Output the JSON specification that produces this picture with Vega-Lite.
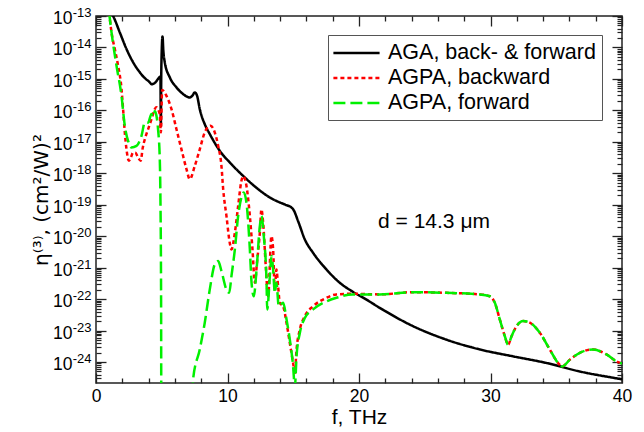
{
  "$schema": "https://vega.github.io/schema/vega-lite/v6.json",
  "width": 526,
  "height": 367,
  "autosize": {"type": "none"},
  "padding": {"left": 96, "top": 16, "right": 22, "bottom": 49},
  "background": "white",
  "config": {
    "font": "Liberation Sans",
    "view": {"stroke": "#222", "strokeWidth": 1.5},
    "axis": {"domain": false, "ticks": true, "tickColor": "#222", "tickWidth": 1.3, "tickOpacity": 1, "grid": false, "labelFont": "Liberation Sans", "titleFont": "Liberation Sans", "labelColor": "black", "titleColor": "black", "titleFontWeight": "normal", "labelFlush": false, "labelOverlap": false}
  },
  "resolve": {"axis": {"x": "independent", "y": "independent"}},
  "layer": [
    {
      "data": {"values": [
        {"f": 1.0, "v": 1.58e-13, "s": "AGA, back- & forward"},
        {"f": 1.3, "v": 1.0e-13, "s": "AGA, back- & forward"},
        {"f": 1.81, "v": 3.0e-14, "s": "AGA, back- & forward"},
        {"f": 2.32, "v": 8.9e-15, "s": "AGA, back- & forward"},
        {"f": 2.82, "v": 3.39e-15, "s": "AGA, back- & forward"},
        {"f": 3.33, "v": 1.62e-15, "s": "AGA, back- & forward"},
        {"f": 3.7, "v": 1.07e-15, "s": "AGA, back- & forward"},
        {"f": 4.09, "v": 7.76e-16, "s": "AGA, back- & forward"},
        {"f": 4.22, "v": 6.76e-16, "s": "AGA, back- & forward"},
        {"f": 4.5, "v": 7.6e-16, "s": "AGA, back- & forward"},
        {"f": 4.72, "v": 1.0e-15, "s": "AGA, back- & forward"},
        {"f": 4.9, "v": 1.2e-15, "s": "AGA, back- & forward"},
        {"f": 4.93, "v": 3.16e-17, "s": "AGA, back- & forward"},
        {"f": 4.97, "v": 2.5e-15, "s": "AGA, back- & forward"},
        {"f": 5.06, "v": 2.24e-14, "s": "AGA, back- & forward"},
        {"f": 5.12, "v": 7.94e-15, "s": "AGA, back- & forward"},
        {"f": 5.23, "v": 3.39e-15, "s": "AGA, back- & forward"},
        {"f": 5.61, "v": 1.12e-15, "s": "AGA, back- & forward"},
        {"f": 6.12, "v": 5.37e-16, "s": "AGA, back- & forward"},
        {"f": 6.62, "v": 3.31e-16, "s": "AGA, back- & forward"},
        {"f": 7.13, "v": 2.57e-16, "s": "AGA, back- & forward"},
        {"f": 7.35, "v": 3.0e-16, "s": "AGA, back- & forward"},
        {"f": 7.51, "v": 3.72e-16, "s": "AGA, back- & forward"},
        {"f": 7.69, "v": 2.88e-16, "s": "AGA, back- & forward"},
        {"f": 7.89, "v": 1.1e-16, "s": "AGA, back- & forward"},
        {"f": 8.27, "v": 3.63e-17, "s": "AGA, back- & forward"},
        {"f": 8.66, "v": 1.74e-17, "s": "AGA, back- & forward"},
        {"f": 9.42, "v": 5.13e-18, "s": "AGA, back- & forward"},
        {"f": 10.18, "v": 2.19e-18, "s": "AGA, back- & forward"},
        {"f": 11.06, "v": 9.3e-19, "s": "AGA, back- & forward"},
        {"f": 12.2, "v": 3.47e-19, "s": "AGA, back- & forward"},
        {"f": 13.22, "v": 1.7e-19, "s": "AGA, back- & forward"},
        {"f": 13.72, "v": 1.32e-19, "s": "AGA, back- & forward"},
        {"f": 14.4, "v": 1.0e-19, "s": "AGA, back- & forward"},
        {"f": 14.87, "v": 8.1e-20, "s": "AGA, back- & forward"},
        {"f": 15.0, "v": 7.1e-20, "s": "AGA, back- & forward"},
        {"f": 15.37, "v": 3.0e-20, "s": "AGA, back- & forward"},
        {"f": 15.88, "v": 7.9e-21, "s": "AGA, back- & forward"},
        {"f": 16.51, "v": 2.95e-21, "s": "AGA, back- & forward"},
        {"f": 17.53, "v": 8.7e-22, "s": "AGA, back- & forward"},
        {"f": 18.54, "v": 3.3e-22, "s": "AGA, back- & forward"},
        {"f": 19.5, "v": 1.74e-22, "s": "AGA, back- & forward"},
        {"f": 20.5, "v": 1.0e-22, "s": "AGA, back- & forward"},
        {"f": 21.58, "v": 5.25e-23, "s": "AGA, back- & forward"},
        {"f": 24.11, "v": 1.38e-23, "s": "AGA, back- & forward"},
        {"f": 26.65, "v": 5.13e-24, "s": "AGA, back- & forward"},
        {"f": 29.19, "v": 2.51e-24, "s": "AGA, back- & forward"},
        {"f": 31.72, "v": 1.51e-24, "s": "AGA, back- & forward"},
        {"f": 34.26, "v": 9.3e-25, "s": "AGA, back- & forward"},
        {"f": 36.79, "v": 5.0e-25, "s": "AGA, back- & forward"},
        {"f": 39.32, "v": 3.16e-25, "s": "AGA, back- & forward"},
        {"f": 40.0, "v": 2.82e-25, "s": "AGA, back- & forward"},

        {"f": 1.0, "v": 1.26e-13, "s": "AGPA, backward"},
        {"f": 1.18, "v": 3.0e-14, "s": "AGPA, backward"},
        {"f": 1.43, "v": 8.9e-15, "s": "AGPA, backward"},
        {"f": 1.68, "v": 2.63e-15, "s": "AGPA, backward"},
        {"f": 1.94, "v": 4.8e-16, "s": "AGPA, backward"},
        {"f": 2.06, "v": 1.1e-16, "s": "AGPA, backward"},
        {"f": 2.19, "v": 2.0e-17, "s": "AGPA, backward"},
        {"f": 2.32, "v": 5.75e-18, "s": "AGPA, backward"},
        {"f": 2.5, "v": 2.5e-18, "s": "AGPA, backward"},
        {"f": 2.65, "v": 3.16e-18, "s": "AGPA, backward"},
        {"f": 2.82, "v": 4.57e-18, "s": "AGPA, backward"},
        {"f": 3.0, "v": 4.47e-18, "s": "AGPA, backward"},
        {"f": 3.2, "v": 3.16e-18, "s": "AGPA, backward"},
        {"f": 3.4, "v": 2.5e-18, "s": "AGPA, backward"},
        {"f": 3.55, "v": 6.3e-18, "s": "AGPA, backward"},
        {"f": 3.71, "v": 1.2e-17, "s": "AGPA, backward"},
        {"f": 3.96, "v": 2.5e-17, "s": "AGPA, backward"},
        {"f": 4.22, "v": 5.25e-17, "s": "AGPA, backward"},
        {"f": 4.47, "v": 1.1e-16, "s": "AGPA, backward"},
        {"f": 4.6, "v": 1.26e-16, "s": "AGPA, backward"},
        {"f": 4.75, "v": 1.0e-16, "s": "AGPA, backward"},
        {"f": 4.85, "v": 7.6e-17, "s": "AGPA, backward"},
        {"f": 4.93, "v": 2.0e-17, "s": "AGPA, backward"},
        {"f": 5.03, "v": 4.47e-16, "s": "AGPA, backward"},
        {"f": 5.36, "v": 2.88e-16, "s": "AGPA, backward"},
        {"f": 5.74, "v": 1.1e-16, "s": "AGPA, backward"},
        {"f": 6.12, "v": 2.5e-17, "s": "AGPA, backward"},
        {"f": 6.5, "v": 5.75e-18, "s": "AGPA, backward"},
        {"f": 6.88, "v": 1.35e-18, "s": "AGPA, backward"},
        {"f": 7.13, "v": 6.46e-19, "s": "AGPA, backward"},
        {"f": 7.51, "v": 1.7e-18, "s": "AGPA, backward"},
        {"f": 7.89, "v": 5.75e-18, "s": "AGPA, backward"},
        {"f": 8.27, "v": 2.0e-17, "s": "AGPA, backward"},
        {"f": 8.71, "v": 3.24e-17, "s": "AGPA, backward"},
        {"f": 9.03, "v": 2.0e-17, "s": "AGPA, backward"},
        {"f": 9.29, "v": 7.4e-18, "s": "AGPA, backward"},
        {"f": 9.54, "v": 1.7e-18, "s": "AGPA, backward"},
        {"f": 9.67, "v": 3.16e-19, "s": "AGPA, backward"},
        {"f": 9.92, "v": 4.4e-20, "s": "AGPA, backward"},
        {"f": 10.17, "v": 6.2e-21, "s": "AGPA, backward"},
        {"f": 10.3, "v": 3.8e-21, "s": "AGPA, backward"},
        {"f": 10.56, "v": 1.29e-20, "s": "AGPA, backward"},
        {"f": 10.81, "v": 9.1e-20, "s": "AGPA, backward"},
        {"f": 11.06, "v": 5.75e-19, "s": "AGPA, backward"},
        {"f": 11.19, "v": 8.1e-19, "s": "AGPA, backward"},
        {"f": 11.44, "v": 4.0e-19, "s": "AGPA, backward"},
        {"f": 11.7, "v": 4.4e-20, "s": "AGPA, backward"},
        {"f": 11.9, "v": 3.8e-21, "s": "AGPA, backward"},
        {"f": 12.08, "v": 3.3e-22, "s": "AGPA, backward"},
        {"f": 12.25, "v": 1.58e-21, "s": "AGPA, backward"},
        {"f": 12.46, "v": 1.29e-20, "s": "AGPA, backward"},
        {"f": 12.58, "v": 7.1e-20, "s": "AGPA, backward"},
        {"f": 12.71, "v": 2.7e-20, "s": "AGPA, backward"},
        {"f": 12.91, "v": 1.12e-21, "s": "AGPA, backward"},
        {"f": 13.09, "v": 1.23e-22, "s": "AGPA, backward"},
        {"f": 13.34, "v": 1.0e-20, "s": "AGPA, backward"},
        {"f": 13.47, "v": 3.8e-21, "s": "AGPA, backward"},
        {"f": 13.6, "v": 2.0e-22, "s": "AGPA, backward"},
        {"f": 13.72, "v": 8.7e-22, "s": "AGPA, backward"},
        {"f": 13.85, "v": 2.5e-22, "s": "AGPA, backward"},
        {"f": 13.98, "v": 7.6e-23, "s": "AGPA, backward"},
        {"f": 14.23, "v": 5.9e-23, "s": "AGPA, backward"},
        {"f": 14.49, "v": 1.74e-23, "s": "AGPA, backward"},
        {"f": 14.74, "v": 4.0e-24, "s": "AGPA, backward"},
        {"f": 14.99, "v": 9.3e-25, "s": "AGPA, backward"},
        {"f": 15.12, "v": 4.47e-25, "s": "AGPA, backward"},
        {"f": 15.25, "v": 2.5e-24, "s": "AGPA, backward"},
        {"f": 15.5, "v": 1.07e-23, "s": "AGPA, backward"},
        {"f": 15.88, "v": 2.9e-23, "s": "AGPA, backward"},
        {"f": 16.51, "v": 5.9e-23, "s": "AGPA, backward"},
        {"f": 17.53, "v": 1.1e-22, "s": "AGPA, backward"},
        {"f": 18.29, "v": 1.41e-22, "s": "AGPA, backward"},
        {"f": 19.5, "v": 1.48e-22, "s": "AGPA, backward"},
        {"f": 21.58, "v": 1.41e-22, "s": "AGPA, backward"},
        {"f": 24.11, "v": 1.66e-22, "s": "AGPA, backward"},
        {"f": 26.65, "v": 1.58e-22, "s": "AGPA, backward"},
        {"f": 29.19, "v": 1.41e-22, "s": "AGPA, backward"},
        {"f": 29.95, "v": 1.23e-22, "s": "AGPA, backward"},
        {"f": 30.33, "v": 7.6e-23, "s": "AGPA, backward"},
        {"f": 30.71, "v": 2.24e-23, "s": "AGPA, backward"},
        {"f": 31.09, "v": 6.6e-24, "s": "AGPA, backward"},
        {"f": 31.34, "v": 3.55e-24, "s": "AGPA, backward"},
        {"f": 31.6, "v": 6.6e-24, "s": "AGPA, backward"},
        {"f": 31.98, "v": 1.38e-23, "s": "AGPA, backward"},
        {"f": 32.48, "v": 2.0e-23, "s": "AGPA, backward"},
        {"f": 32.99, "v": 1.78e-23, "s": "AGPA, backward"},
        {"f": 33.75, "v": 8.5e-24, "s": "AGPA, backward"},
        {"f": 34.51, "v": 2.5e-24, "s": "AGPA, backward"},
        {"f": 35.14, "v": 9.3e-25, "s": "AGPA, backward"},
        {"f": 35.45, "v": 7.2e-25, "s": "AGPA, backward"},
        {"f": 36.05, "v": 1.2e-24, "s": "AGPA, backward"},
        {"f": 36.79, "v": 1.95e-24, "s": "AGPA, backward"},
        {"f": 37.8, "v": 2.5e-24, "s": "AGPA, backward"},
        {"f": 38.82, "v": 1.74e-24, "s": "AGPA, backward"},
        {"f": 39.58, "v": 1.05e-24, "s": "AGPA, backward"},
        {"f": 40.0, "v": 8.9e-25, "s": "AGPA, backward"},

        {"f": 1.0, "v": 1.26e-13, "s": "AGPA, forward"},
        {"f": 1.18, "v": 3.0e-14, "s": "AGPA, forward"},
        {"f": 1.56, "v": 2.63e-15, "s": "AGPA, forward"},
        {"f": 1.94, "v": 2.88e-16, "s": "AGPA, forward"},
        {"f": 2.19, "v": 3.24e-17, "s": "AGPA, forward"},
        {"f": 2.44, "v": 1.07e-17, "s": "AGPA, forward"},
        {"f": 2.7, "v": 6.6e-18, "s": "AGPA, forward"},
        {"f": 3.08, "v": 7.4e-18, "s": "AGPA, forward"},
        {"f": 3.46, "v": 1.55e-17, "s": "AGPA, forward"},
        {"f": 3.71, "v": 4.07e-17, "s": "AGPA, forward"},
        {"f": 3.96, "v": 4.07e-17, "s": "AGPA, forward"},
        {"f": 4.22, "v": 7.6e-17, "s": "AGPA, forward"},
        {"f": 4.35, "v": 6.3e-17, "s": "AGPA, forward"},
        {"f": 4.47, "v": 9.5e-17, "s": "AGPA, forward"},
        {"f": 4.6, "v": 6.6e-17, "s": "AGPA, forward"},
        {"f": 4.72, "v": 2.5e-17, "s": "AGPA, forward"},
        {"f": 4.85, "v": 2.8e-18, "s": "AGPA, forward"},
        {"f": 4.9, "v": 1.48e-19, "s": "AGPA, forward"},
        {"f": 4.95, "v": 1.0e-22, "s": "AGPA, forward"},
        {"f": 4.98, "v": 1.0e-30, "s": "AGPA, forward"},
        {"f": 7.3, "v": 1.0e-30, "s": "AGPA, forward"},
        {"f": 7.38, "v": 2.75e-25, "s": "AGPA, forward"},
        {"f": 7.89, "v": 2.5e-24, "s": "AGPA, forward"},
        {"f": 8.27, "v": 1.78e-23, "s": "AGPA, forward"},
        {"f": 8.65, "v": 2.0e-22, "s": "AGPA, forward"},
        {"f": 9.03, "v": 1.26e-21, "s": "AGPA, forward"},
        {"f": 9.29, "v": 1.62e-21, "s": "AGPA, forward"},
        {"f": 9.54, "v": 7.8e-22, "s": "AGPA, forward"},
        {"f": 9.92, "v": 2.0e-22, "s": "AGPA, forward"},
        {"f": 10.13, "v": 1.58e-22, "s": "AGPA, forward"},
        {"f": 10.3, "v": 5.4e-22, "s": "AGPA, forward"},
        {"f": 10.56, "v": 3.8e-21, "s": "AGPA, forward"},
        {"f": 10.81, "v": 4.4e-20, "s": "AGPA, forward"},
        {"f": 11.06, "v": 1.7e-19, "s": "AGPA, forward"},
        {"f": 11.24, "v": 2.45e-19, "s": "AGPA, forward"},
        {"f": 11.44, "v": 1.17e-19, "s": "AGPA, forward"},
        {"f": 11.7, "v": 3.8e-21, "s": "AGPA, forward"},
        {"f": 11.83, "v": 3.3e-22, "s": "AGPA, forward"},
        {"f": 12.0, "v": 1.23e-22, "s": "AGPA, forward"},
        {"f": 12.21, "v": 8.7e-22, "s": "AGPA, forward"},
        {"f": 12.46, "v": 2.1e-20, "s": "AGPA, forward"},
        {"f": 12.58, "v": 4.4e-20, "s": "AGPA, forward"},
        {"f": 12.76, "v": 1.0e-20, "s": "AGPA, forward"},
        {"f": 12.97, "v": 3.3e-22, "s": "AGPA, forward"},
        {"f": 13.02, "v": 4.7e-23, "s": "AGPA, forward"},
        {"f": 13.22, "v": 5.4e-22, "s": "AGPA, forward"},
        {"f": 13.34, "v": 2.34e-21, "s": "AGPA, forward"},
        {"f": 13.47, "v": 8.7e-22, "s": "AGPA, forward"},
        {"f": 13.6, "v": 1.58e-22, "s": "AGPA, forward"},
        {"f": 13.72, "v": 3.3e-22, "s": "AGPA, forward"},
        {"f": 13.9, "v": 5.9e-23, "s": "AGPA, forward"},
        {"f": 14.23, "v": 7.6e-23, "s": "AGPA, forward"},
        {"f": 14.49, "v": 2.24e-23, "s": "AGPA, forward"},
        {"f": 14.74, "v": 5.1e-24, "s": "AGPA, forward"},
        {"f": 14.99, "v": 7.2e-25, "s": "AGPA, forward"},
        {"f": 15.12, "v": 1.58e-25, "s": "AGPA, forward"},
        {"f": 15.25, "v": 1.51e-24, "s": "AGPA, forward"},
        {"f": 15.5, "v": 8.3e-24, "s": "AGPA, forward"},
        {"f": 15.88, "v": 2.5e-23, "s": "AGPA, forward"},
        {"f": 16.51, "v": 4.7e-23, "s": "AGPA, forward"},
        {"f": 17.53, "v": 8.5e-23, "s": "AGPA, forward"},
        {"f": 18.29, "v": 1.1e-22, "s": "AGPA, forward"},
        {"f": 19.5, "v": 1.41e-22, "s": "AGPA, forward"},
        {"f": 21.58, "v": 1.41e-22, "s": "AGPA, forward"},
        {"f": 24.11, "v": 1.66e-22, "s": "AGPA, forward"},
        {"f": 26.65, "v": 1.58e-22, "s": "AGPA, forward"},
        {"f": 29.19, "v": 1.41e-22, "s": "AGPA, forward"},
        {"f": 29.95, "v": 1.23e-22, "s": "AGPA, forward"},
        {"f": 30.33, "v": 7.6e-23, "s": "AGPA, forward"},
        {"f": 30.71, "v": 2.24e-23, "s": "AGPA, forward"},
        {"f": 31.09, "v": 6.6e-24, "s": "AGPA, forward"},
        {"f": 31.34, "v": 3.55e-24, "s": "AGPA, forward"},
        {"f": 31.6, "v": 6.6e-24, "s": "AGPA, forward"},
        {"f": 31.98, "v": 1.38e-23, "s": "AGPA, forward"},
        {"f": 32.48, "v": 2.0e-23, "s": "AGPA, forward"},
        {"f": 32.99, "v": 1.78e-23, "s": "AGPA, forward"},
        {"f": 33.75, "v": 8.5e-24, "s": "AGPA, forward"},
        {"f": 34.51, "v": 2.5e-24, "s": "AGPA, forward"},
        {"f": 35.14, "v": 9.3e-25, "s": "AGPA, forward"},
        {"f": 35.45, "v": 7.2e-25, "s": "AGPA, forward"},
        {"f": 36.05, "v": 1.2e-24, "s": "AGPA, forward"},
        {"f": 36.79, "v": 1.95e-24, "s": "AGPA, forward"},
        {"f": 37.8, "v": 2.5e-24, "s": "AGPA, forward"},
        {"f": 38.82, "v": 1.74e-24, "s": "AGPA, forward"},
        {"f": 39.58, "v": 1.05e-24, "s": "AGPA, forward"},
        {"f": 40.0, "v": 8.9e-25, "s": "AGPA, forward"}
      ]},
      "mark": {"type": "line", "clip": true, "strokeWidth": 2.5, "interpolate": "monotone"},
      "encoding": {
        "x": {"field": "f", "type": "quantitative",
          "scale": {"domain": [0, 40], "nice": false, "zero": false},
          "axis": {"orient": "bottom", "ticks": true, "offset": -10, "tickSize": 10, "tickColor": "#222", "tickWidth": 1.3, "title": "f, THz", "titleFontSize": 21, "titlePadding": 2, "labelFontSize": 17.5, "labelPadding": 4,
            "values": [0, 10, 20, 30, 40]}},
        "y": {"field": "v", "type": "quantitative",
          "scale": {"type": "log", "domain": [2.15e-25, 1e-13], "nice": false},
          "axis": {"orient": "left", "ticks": true, "offset": -10, "tickSize": 10, "tickColor": "#222", "tickWidth": 1.3, "title": "η⁽³⁾, (cm²/W)²", "titleFont": "DejaVu Sans", "titleFontSize": 20, "titlePadding": 1, "labelFontSize": 17.5, "labelPadding": 24, "labelOffset": 2.5,
            "values": [1e-24, 1e-23, 1e-22, 1e-21, 1e-20, 1e-19, 1e-18, 1e-17, 1e-16, 1e-15, 1e-14, 1e-13],
            "labelExpr": "'10'"}},
        "color": {"field": "s", "type": "nominal",
          "scale": {"domain": ["AGA, back- & forward", "AGPA, backward", "AGPA, forward"], "range": ["#000000", "#ff0000", "#00f000"]},
          "legend": {"title": null, "orient": "none", "legendX": 232, "legendY": 19, "labelFontSize": 21.5, "labelFont": "Liberation Sans", "labelColor": "black",
            "symbolType": "M-1.2,0H3.2", "symbolSize": 441, "symbolStrokeWidth": 2.5, "labelOffset": 30,
            "strokeColor": "#555", "padding": 6, "rowPadding": 2, "fillColor": "white", "labelLimit": 400}},
        "strokeDash": {"field": "s", "type": "nominal",
          "scale": {"domain": ["AGA, back- & forward", "AGPA, backward", "AGPA, forward"], "range": [[1, 0], [4, 3], [12, 5]]},
          "legend": null}
      }
    },
    {
      "data": {"values": [{"f": 0, "v": 1e-13}, {"f": 40, "v": 2.15e-25}]},
      "mark": {"type": "point", "opacity": 0},
      "encoding": {
        "x": {"field": "f", "type": "quantitative", "axis": null},
        "y": {"field": "v", "type": "quantitative",
          "axis": {"orient": "left", "title": null, "ticks": false, "labelFontSize": 13, "labelPadding": 5, "labelOffset": -3.5, "labelAlign": "right",
            "values": [1e-24, 1e-23, 1e-22, 1e-21, 1e-20, 1e-19, 1e-18, 1e-17, 1e-16, 1e-15, 1e-14, 1e-13],
            "labelExpr": "'-' + round(-log(datum.value)/LN10)"}}
      }
    },
    {
      "data": {"values": [{"f": 0, "v": 1e-13}, {"f": 40, "v": 2.15e-25}]},
      "mark": {"type": "point", "opacity": 0},
      "encoding": {
        "x": {"field": "f", "type": "quantitative",
          "axis": {"orient": "bottom", "ticks": true, "offset": -5, "tickSize": 5, "tickColor": "#222", "tickWidth": 1.3, "title": null, "labels": false,
            "values": [2,4,6,8,12,14,16,18,22,24,26,28,32,34,36,38]}},
        "y": {"field": "v", "type": "quantitative",
          "axis": {"orient": "left", "ticks": true, "offset": -5, "tickSize": 5, "tickColor": "#222", "tickWidth": 1.2, "title": null, "labels": false,
            "values": [3e-25,4e-25,5e-25,6e-25,7e-25,8e-25,9e-25,2e-24,3e-24,4e-24,5e-24,6e-24,7e-24,8e-24,9e-24,2e-23,3e-23,4e-23,5e-23,6e-23,7e-23,8e-23,9e-23,2e-22,3e-22,4e-22,5e-22,6e-22,7e-22,8e-22,9e-22,2e-21,3e-21,4e-21,5e-21,6e-21,7e-21,8e-21,9e-21,2e-20,3e-20,4e-20,5e-20,6e-20,7e-20,8e-20,9e-20,2e-19,3e-19,4e-19,5e-19,6e-19,7e-19,8e-19,9e-19,2e-18,3e-18,4e-18,5e-18,6e-18,7e-18,8e-18,9e-18,2e-17,3e-17,4e-17,5e-17,6e-17,7e-17,8e-17,9e-17,2e-16,3e-16,4e-16,5e-16,6e-16,7e-16,8e-16,9e-16,2e-15,3e-15,4e-15,5e-15,6e-15,7e-15,8e-15,9e-15,2e-14,3e-14,4e-14,5e-14,6e-14,7e-14,8e-14,9e-14]}}
      }
    },
    {
      "data": {"values": [{"f": 0, "v": 1e-13}, {"f": 40, "v": 2.15e-25}]},
      "mark": {"type": "point", "opacity": 0},
      "encoding": {
        "x": {"field": "f", "type": "quantitative",
          "axis": {"orient": "top", "ticks": true, "offset": -10, "tickSize": 10, "tickColor": "#222", "tickWidth": 1.3, "title": null, "labels": false, "values": [0, 10, 20, 30, 40]}},
        "y": {"field": "v", "type": "quantitative",
          "axis": {"orient": "right", "ticks": true, "offset": -10, "tickSize": 10, "tickColor": "#222", "tickWidth": 1.3, "title": null, "labels": false,
            "values": [1e-24, 1e-23, 1e-22, 1e-21, 1e-20, 1e-19, 1e-18, 1e-17, 1e-16, 1e-15, 1e-14, 1e-13]}}
      }
    },
    {
      "data": {"values": [{"f": 0, "v": 1e-13}, {"f": 40, "v": 2.15e-25}]},
      "mark": {"type": "point", "opacity": 0},
      "encoding": {
        "x": {"field": "f", "type": "quantitative",
          "axis": {"orient": "top", "ticks": true, "offset": -5, "tickSize": 5, "tickColor": "#222", "tickWidth": 1.3, "title": null, "labels": false,
            "values": [2,4,6,8,12,14,16,18,22,24,26,28,32,34,36,38]}},
        "y": {"field": "v", "type": "quantitative",
          "axis": {"orient": "right", "ticks": true, "offset": -5, "tickSize": 5, "tickColor": "#222", "tickWidth": 1.2, "title": null, "labels": false,
            "values": [3e-25,4e-25,5e-25,6e-25,7e-25,8e-25,9e-25,2e-24,3e-24,4e-24,5e-24,6e-24,7e-24,8e-24,9e-24,2e-23,3e-23,4e-23,5e-23,6e-23,7e-23,8e-23,9e-23,2e-22,3e-22,4e-22,5e-22,6e-22,7e-22,8e-22,9e-22,2e-21,3e-21,4e-21,5e-21,6e-21,7e-21,8e-21,9e-21,2e-20,3e-20,4e-20,5e-20,6e-20,7e-20,8e-20,9e-20,2e-19,3e-19,4e-19,5e-19,6e-19,7e-19,8e-19,9e-19,2e-18,3e-18,4e-18,5e-18,6e-18,7e-18,8e-18,9e-18,2e-17,3e-17,4e-17,5e-17,6e-17,7e-17,8e-17,9e-17,2e-16,3e-16,4e-16,5e-16,6e-16,7e-16,8e-16,9e-16,2e-15,3e-15,4e-15,5e-15,6e-15,7e-15,8e-15,9e-15,2e-14,3e-14,4e-14,5e-14,6e-14,7e-14,8e-14,9e-14]}}
      }
    },
    {
      "data": {"values": [{"f": 21.45, "v": 2.8e-20, "label": "d = 14.3 μm"}]},
      "mark": {"type": "text", "align": "left", "baseline": "middle", "fontSize": 21, "font": "Liberation Sans", "color": "black"},
      "encoding": {
        "x": {"field": "f", "type": "quantitative", "axis": null},
        "y": {"field": "v", "type": "quantitative", "axis": null},
        "text": {"field": "label"}
      }
    }
  ]
}
